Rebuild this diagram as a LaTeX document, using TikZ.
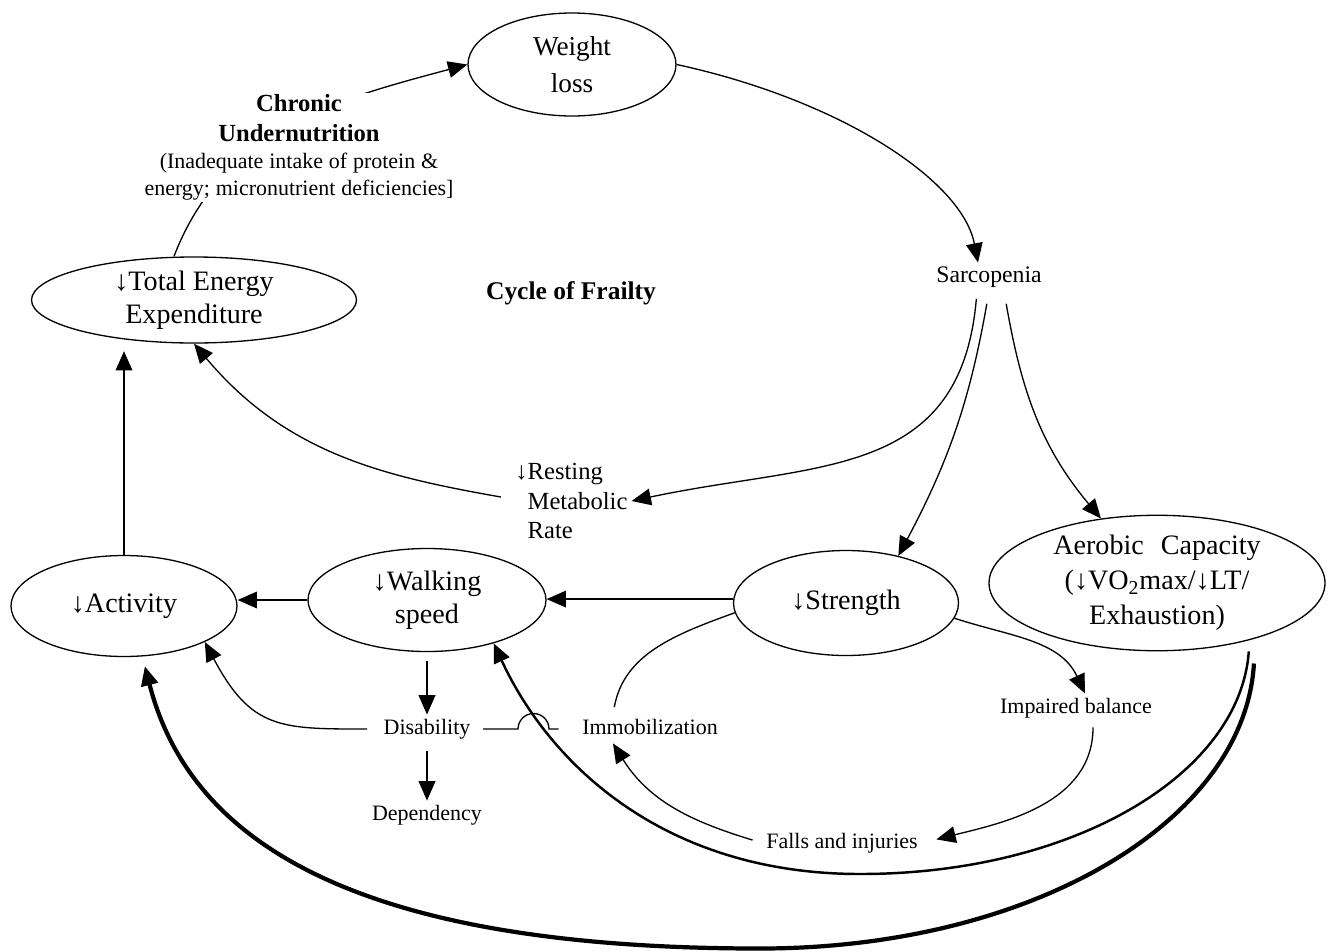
\documentclass[tikz,border=0pt]{standalone}
\usepackage{fontspec}
\setmainfont{Liberation Serif}
\usetikzlibrary{shapes.geometric,arrows.meta}

\begin{document}
\begin{tikzpicture}[
    >={Triangle[length=11pt,width=9.5pt]},
    line width=0.75pt,
    bubble/.style={ellipse,draw,inner sep=0pt,align=center,font=\fontsize{16}{19}\selectfont},
    lbl/.style={inner sep=2pt,text height=9pt,text depth=2.7pt,font=\fontsize{12.5}{15}\selectfont},
    heavy/.style={line width=1.4pt},
    heavier/.style={line width=2.4pt}]
    \useasboundingbox (0,0) rectangle (26.54,-19.02);
    % ellipses
    \node[bubble,minimum width=4.16cm,minimum height=2.06cm,font=\fontsize{15.5}{21}\selectfont](wl) at (11.44,-1.29) {Weight\\loss};
    \node[bubble,minimum width=6.5cm,minimum height=1.72cm](tee) at (3.88,-6.0) {↓Total Energy\\Expenditure};
    \node[bubble,minimum width=4.52cm,minimum height=2.02cm](act) at (2.48,-12.12) {↓Activity};
    \node[bubble,minimum width=4.76cm,minimum height=2.06cm](walk) at (8.54,-12.0) {↓Walking\\speed};
    \node[bubble,minimum width=4.5cm,minimum height=2.1cm](str) at (16.92,-12.06) {↓Strength};
    \node[bubble,minimum width=6.72cm,minimum height=2.7cm,font=\fontsize{16}{20}\selectfont](aero) at (23.14,-11.66) {Aerobic\hspace{0.35em} Capacity\\(↓VO\textsubscript{2}max/↓LT/\\Exhaustion)};
    % plain labels
    \node[lbl,font=\fontsize{13.5}{16}\selectfont](sarc) at (19.78,-5.54) {Sarcopenia};
    \node[font=\fontsize{14.5}{17}\selectfont\bfseries](cof) at (11.42,-5.86) {Cycle of Frailty};
    \node[align=left,anchor=west,inner sep=2pt,font=\fontsize{14}{17}\selectfont](rmr) at (10.47,-10.02) {\llap{↓}Resting\\Metabolic\\Rate};
    \node[lbl](dis) at (8.54,-14.58) {Disability};
    \node[lbl](dep) at (8.54,-16.3) {Dependency};
    \node[lbl](imm) at (13.0,-14.58) {Immobilization};
    \node[lbl](ib) at (21.52,-14.16) {Impaired balance};
    \node[lbl](fall) at (16.84,-16.86) {Falls and injuries};
    \coordinate (hop) at (10.36,-14.58);

    \draw[->] ([xshift=-0.4cm]tee.north) to[out=69,in=195] (wl.west);
    \node[fill=white,text width=6.4cm,align=center,inner sep=1pt](chron) at (5.98,-2.95) {{\fontsize{14}{17}\selectfont\bfseries Chronic\par Undernutrition\par}{\fontsize{12.5}{15.5}\selectfont (Inadequate intake of protein \&\par energy; micronutrient deficiencies]\par}};

    \draw[->] (wl.east) .. controls (16.8,-2.0) and (19.24,-3.6) .. ([xshift=-0.22cm]sarc.north);
    \draw[->,shorten <=0.15cm] ([xshift=-0.24cm]sarc.south) to[out=-95,in=12,looseness=1.2] (rmr.east);
    \draw[->,shorten <=0.25cm] (sarc.south) to[out=-100,in=62] (str.42);
    \draw[->,shorten <=0.25cm] ([xshift=0.3cm]sarc.south) to[out=-80,in=130] (aero.131);
    \draw[->,shorten <=0.46cm] (rmr.west) to[out=170,in=-50] (tee.south);
    \draw[->,shorten >=0.15cm] (act.north) -- (act.north |- tee.south);
    \draw[->] (walk.west) -- (walk.west -| act.east);
    \draw[->] (str.178) -- (str.178 -| walk.east);
    \draw[->,shorten <=0.18cm] (walk.south) -- (dis.north);
    \draw[->,shorten <=0.15cm] (dis.south) -- (dep.north);
    \draw[->,shorten <=0.25cm] (dis.west) to[out=180,in=-62,looseness=1.3] (act.-24);
    \draw[shorten <=0.17cm,shorten >=0.39cm] (dis.east) -- (dis.east -| hop) arc[start angle=180,end angle=0,radius=0.31cm] -- (imm.west);
    \draw[->] (str.-8) to[out=-18,in=115] ([xshift=0.18cm]ib.north);
    \draw[->,shorten <=0.1cm,shorten >=0.3cm] ([xshift=0.34cm]ib.south) to[out=-90,in=14] (fall.east);
    \draw[->,shorten <=0.2cm] (fall.west) to[out=163,in=-58] ([xshift=-0.74cm]imm.south);
    \draw[shorten <=0.15cm] ([xshift=-0.74cm]imm.north) to[out=80,in=200] (str.185);

    % long feedback arcs
    \draw[->,heavy] ([yshift=-0.22cm]aero.-32) .. controls (24.8,-15.48) and (21.48,-17.48) .. (17.2,-17.48) .. controls (13.3,-17.48) and (11.0,-15.3) .. (walk.-33);
    \draw[->,heavier,shorten >=0.2cm] ([yshift=-0.49cm]aero.-30) .. controls (24.9,-16.42) and (20.64,-18.97) .. (15.2,-18.97) .. controls (7.4,-18.97) and (3.84,-17.0) .. (act.-70);
\end{tikzpicture}
\end{document}
